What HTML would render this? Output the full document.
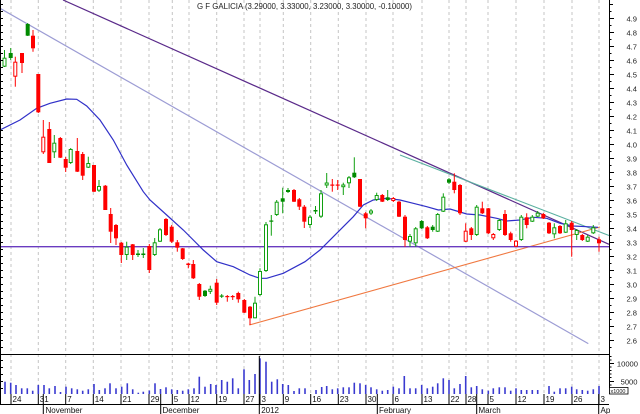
<!DOCTYPE html>
<html><head><meta charset="utf-8"><style>
html,body{margin:0;padding:0;background:#fff;}
svg{display:block;font-family:"Liberation Sans",Arial,sans-serif;}
.R{fill:#f00;}
.G{fill:#008a00;}
.r{fill:#fff;stroke:#f00;stroke-width:1;}
.g{fill:#fff;stroke:#10a010;stroke-width:1;}
.wr{stroke:#f00;stroke-width:1;}
.wg{stroke:#10a010;stroke-width:1;}
.grid{stroke:#c4c4c4;stroke-width:1;stroke-dasharray:3,3;}
.v{stroke:#3a3ad0;stroke-width:1.6;}
.ax{stroke:#000;stroke-width:1;}
.lbl{font-size:7.6px;fill:#222;}
.dl{font-size:8px;fill:#111;}
</style></head><body>
<svg width="640" height="414" viewBox="0 0 640 414" xmlns="http://www.w3.org/2000/svg">
<rect width="640" height="414" fill="#fff"/>
<!-- grid -->
<g class="grid">
<line x1="11" y1="0" x2="11" y2="394"/><line x1="38.3" y1="0" x2="38.3" y2="394"/><line x1="65.7" y1="0" x2="65.7" y2="394"/><line x1="93.3" y1="0" x2="93.3" y2="394"/><line x1="121" y1="0" x2="121" y2="394"/><line x1="149" y1="0" x2="149" y2="394"/><line x1="172.3" y1="0" x2="172.3" y2="394"/><line x1="189" y1="0" x2="189" y2="394"/><line x1="216.7" y1="0" x2="216.7" y2="394"/><line x1="244" y1="0" x2="244" y2="394"/><line x1="260" y1="0" x2="260" y2="394"/><line x1="283.3" y1="0" x2="283.3" y2="394"/><line x1="310.7" y1="0" x2="310.7" y2="394"/><line x1="338.3" y1="0" x2="338.3" y2="394"/><line x1="366" y1="0" x2="366" y2="394"/><line x1="393" y1="0" x2="393" y2="394"/><line x1="422" y1="0" x2="422" y2="394"/><line x1="449" y1="0" x2="449" y2="394"/><line x1="466" y1="0" x2="466" y2="394"/><line x1="488" y1="0" x2="488" y2="394"/><line x1="516" y1="0" x2="516" y2="394"/><line x1="544" y1="0" x2="544" y2="394"/><line x1="572" y1="0" x2="572" y2="394"/><line x1="599" y1="0" x2="599" y2="394"/>
</g>
<!-- title -->
<text x="197" y="9" font-size="8.5px" fill="#222" textLength="215" lengthAdjust="spacingAndGlyphs">G F GALICIA (3.29000, 3.33000, 3.23000, 3.30000, -0.10000)</text>
<!-- trendlines -->
<line x1="63" y1="0" x2="609" y2="244.3" stroke="#5a2a8a" stroke-width="1.2"/>
<line x1="0" y1="8.3" x2="588.3" y2="343.6" stroke="#9c9cd4" stroke-width="1.2"/>
<line x1="400" y1="155" x2="609" y2="235.5" stroke="#5ab0a0" stroke-width="1.1"/>
<line x1="249.3" y1="325" x2="600" y2="227" stroke="#f07840" stroke-width="1.1"/>
<line x1="0" y1="246.7" x2="609" y2="246.7" stroke="#6a3cc0" stroke-width="1.3"/>
<!-- moving average -->
<polyline fill="none" stroke="#3030c8" stroke-width="1.2" points="0,130 20,120 36.7,108.3 50,103.3 66.7,99 76.7,99.3 86.7,106 100,120 113.3,140 126.7,165 143.3,191.7 150,200 166.7,215 183.3,230 193.3,240 203.3,250 216.7,261.7 233.3,266.7 250,275 260,278.3 266.7,278.3 283.3,273.3 305,261.7 320,250 336.7,233.3 353.3,216.7 363.3,205 373.3,200 386.7,198.3 400,200 413.3,203.3 426.7,206.7 438.3,210 450,209 456.7,211 466.7,214 480,215 496.7,218.3 506.7,221 520,220 533.3,217.3 546.7,218.3 560,223.3 573.3,226 586.7,226.7 598,227.3"/>
<!-- candles -->
<g>
<line class="wg" x1="4.5" y1="50" x2="4.5" y2="67"/><rect class="g" x="3" y="58.2" width="3" height="8"/>
<line class="wg" x1="10.7" y1="48" x2="10.7" y2="60"/><rect class="G" x="8.7" y="53" width="4" height="5"/>
<line class="wr" x1="15.3" y1="56.7" x2="15.3" y2="86.7"/><rect class="r" x="13.8" y="62.2" width="3" height="14"/>
<line class="wr" x1="22" y1="53" x2="22" y2="73"/><rect class="R" x="20" y="53" width="4" height="10"/>
<line class="wg" x1="27.7" y1="23" x2="27.7" y2="36"/><rect class="G" x="25.7" y="24" width="4" height="11.7"/>
<line class="wr" x1="33" y1="30" x2="33" y2="51.7"/><rect class="R" x="31" y="35.7" width="4" height="12.6"/>
<line class="wr" x1="38.3" y1="74" x2="38.3" y2="113"/><rect class="R" x="36.3" y="74" width="4" height="38.3"/>
<line class="wr" x1="43.3" y1="120" x2="43.3" y2="154"/><rect class="r" x="41.8" y="137.2" width="3" height="14.6"/>
<line class="wr" x1="49.3" y1="122" x2="49.3" y2="163"/><rect class="R" x="47.3" y="129" width="4" height="34"/>
<line class="wg" x1="54.3" y1="135" x2="54.3" y2="158"/><rect class="g" x="52.8" y="143.2" width="3" height="8.6"/>
<line class="wr" x1="60.3" y1="137" x2="60.3" y2="158"/><rect class="R" x="58.3" y="138" width="4" height="19.7"/>
<line class="wr" x1="65.7" y1="157" x2="65.7" y2="172"/><rect class="R" x="63.7" y="159" width="4" height="8.7"/>
<line class="wg" x1="70.7" y1="148" x2="70.7" y2="164"/><rect class="g" x="69.2" y="149.5" width="3" height="13"/>
<line class="wr" x1="77.3" y1="138" x2="77.3" y2="172"/><rect class="R" x="75.3" y="151" width="4" height="20.7"/>
<line class="wr" x1="82.7" y1="152" x2="82.7" y2="180"/><rect class="R" x="80.7" y="154" width="4" height="21.7"/>
<line class="wg" x1="88.3" y1="156.7" x2="88.3" y2="168"/><rect class="g" x="86.8" y="163.5" width="3" height="3.7"/>
<line class="wr" x1="94" y1="165" x2="94" y2="192"/><rect class="R" x="92" y="165" width="4" height="26.7"/>
<line class="wg" x1="99" y1="180" x2="99" y2="192"/><rect class="g" x="97.5" y="186.5" width="3" height="3.7"/>
<line class="wr" x1="105.3" y1="185" x2="105.3" y2="210"/><rect class="R" x="103.3" y="185.7" width="4" height="24.3"/>
<line class="wr" x1="110.7" y1="208" x2="110.7" y2="243"/><rect class="R" x="108.7" y="214" width="4" height="17.7"/>
<line class="wr" x1="116" y1="224" x2="116" y2="245"/><rect class="R" x="114" y="225" width="4" height="13.3"/>
<line class="wr" x1="121.3" y1="242" x2="121.3" y2="263"/><rect class="R" x="119.3" y="242.7" width="4" height="12.3"/>
<line class="wg" x1="126.7" y1="241.7" x2="126.7" y2="260"/><rect class="g" x="125.2" y="247.2" width="3" height="7.3"/>
<line class="wr" x1="132.7" y1="244" x2="132.7" y2="260"/><rect class="R" x="130.7" y="244.3" width="4" height="10.7"/>
<line class="wg" x1="138" y1="250" x2="138" y2="257"/><rect class="G" x="136" y="253.5" width="4" height="1.5"/>
<line class="wg" x1="143.3" y1="248" x2="143.3" y2="258"/><rect class="G" x="141.3" y="253.5" width="4" height="1.5"/>
<line class="wr" x1="149.3" y1="244" x2="149.3" y2="273"/><rect class="R" x="147.3" y="246" width="4" height="24"/>
<line class="wg" x1="154.7" y1="238" x2="154.7" y2="256"/><rect class="g" x="153.2" y="242.8" width="3" height="11.7"/>
<line class="wg" x1="160" y1="228" x2="160" y2="242"/><rect class="g" x="158.5" y="229.8" width="3" height="11.4"/>
<line class="wr" x1="166" y1="218" x2="166" y2="236"/><rect class="R" x="164" y="219" width="4" height="16"/>
<line class="wr" x1="171.7" y1="225" x2="171.7" y2="243"/><rect class="R" x="169.7" y="226.7" width="4" height="15"/>
<line class="wr" x1="177.3" y1="240" x2="177.3" y2="251.7"/><rect class="R" x="175.3" y="242.3" width="4" height="5.4"/>
<line class="wr" x1="182.7" y1="248" x2="182.7" y2="260"/><rect class="R" x="180.7" y="248.3" width="4" height="10.7"/>
<line class="wr" x1="188.3" y1="262.7" x2="188.3" y2="268.3"/><rect class="R" x="186.3" y="263.5" width="4" height="1.5"/>
<line class="wr" x1="193.3" y1="260" x2="193.3" y2="279"/><rect class="R" x="191.3" y="264" width="4" height="14.3"/>
<line class="wr" x1="199.3" y1="283" x2="199.3" y2="300"/><rect class="R" x="197.3" y="284" width="4" height="12.7"/>
<line class="wg" x1="205" y1="290" x2="205" y2="297"/><rect class="G" x="203" y="290.7" width="4" height="5.3"/>
<line class="wg" x1="210.3" y1="285.7" x2="210.3" y2="294"/><rect class="g" x="208.8" y="289.3" width="3" height="2"/>
<line class="wr" x1="216.7" y1="279" x2="216.7" y2="305"/><rect class="R" x="214.7" y="282.7" width="4" height="20"/>
<line class="wg" x1="221.7" y1="294" x2="221.7" y2="298"/><rect class="G" x="219.7" y="295.5" width="4" height="1.2"/>
<line class="wr" x1="227.3" y1="295" x2="227.3" y2="301.7"/><rect class="R" x="225.3" y="296" width="4" height="1.2"/>
<line class="wr" x1="232.7" y1="295" x2="232.7" y2="300"/><rect class="R" x="230.7" y="296" width="4" height="1.2"/>
<line class="wr" x1="238.3" y1="291.7" x2="238.3" y2="302.7"/><rect class="R" x="236.3" y="293" width="4" height="6.3"/>
<line class="wr" x1="244.3" y1="299" x2="244.3" y2="313"/><rect class="R" x="242.3" y="300" width="4" height="12.7"/>
<line class="wr" x1="250" y1="306" x2="250" y2="325"/><rect class="R" x="248" y="306.7" width="4" height="11.6"/>
<line class="wg" x1="255" y1="296.7" x2="255" y2="318.3"/><rect class="g" x="253.5" y="303.2" width="3" height="14.6"/>
<line class="wg" x1="260" y1="268.3" x2="260" y2="296"/><rect class="g" x="258.5" y="271.5" width="3" height="23"/>
<line class="wg" x1="266" y1="222" x2="266" y2="272"/><rect class="g" x="264.5" y="224.8" width="3" height="45.7"/>
<line class="wg" x1="271.3" y1="215" x2="271.3" y2="235.7"/><rect class="G" x="269.3" y="220.5" width="4" height="1.2"/>
<line class="wg" x1="276.7" y1="200" x2="276.7" y2="216"/><rect class="g" x="275.2" y="202.2" width="3" height="12.3"/>
<line class="wg" x1="282.7" y1="187.7" x2="282.7" y2="213.3"/><rect class="G" x="280.7" y="198.3" width="4" height="3.4"/>
<line class="wg" x1="288" y1="188" x2="288" y2="193"/><rect class="G" x="286" y="190" width="4" height="2"/>
<line class="wr" x1="294" y1="189" x2="294" y2="202"/><rect class="R" x="292" y="190" width="4" height="11.7"/>
<line class="wr" x1="299.3" y1="198" x2="299.3" y2="210"/><rect class="R" x="297.3" y="199.3" width="4" height="7.4"/>
<line class="wr" x1="304.3" y1="205" x2="304.3" y2="228"/><rect class="R" x="302.3" y="206.7" width="4" height="15"/>
<line class="wg" x1="310" y1="215" x2="310" y2="228"/><rect class="g" x="308.5" y="217.2" width="3" height="7.3"/>
<line class="wg" x1="315.5" y1="206" x2="315.5" y2="214"/><rect class="G" x="313.5" y="210" width="4" height="1.5"/>
<line class="wg" x1="321" y1="190" x2="321" y2="218"/><rect class="g" x="319.5" y="193.8" width="3" height="22.4"/>
<line class="wg" x1="326.7" y1="173" x2="326.7" y2="188"/><rect class="g" x="325.2" y="183" width="3" height="2"/>
<line class="wr" x1="332.3" y1="179" x2="332.3" y2="191.7"/><rect class="R" x="330.3" y="184.5" width="4" height="1.2"/>
<line class="wr" x1="337.7" y1="180" x2="337.7" y2="190"/><rect class="R" x="335.7" y="184.5" width="4" height="1.2"/>
<line class="wg" x1="343.3" y1="182.7" x2="343.3" y2="195"/><rect class="g" x="341.8" y="185" width="3" height="1.7"/>
<line class="wg" x1="349" y1="176" x2="349" y2="188"/><rect class="g" x="347.5" y="177.8" width="3" height="5"/>
<line class="wg" x1="354.3" y1="157.3" x2="354.3" y2="178"/><rect class="G" x="352.3" y="172.7" width="4" height="4.6"/>
<line class="wr" x1="360" y1="179" x2="360" y2="207"/><rect class="R" x="358" y="179" width="4" height="27.7"/>
<line class="wr" x1="365.7" y1="212" x2="365.7" y2="228.3"/><rect class="R" x="363.7" y="213.3" width="4" height="5"/>
<line class="wg" x1="371" y1="209" x2="371" y2="215"/><rect class="g" x="369.5" y="211" width="3" height="2"/>
<line class="wg" x1="376.7" y1="192.7" x2="376.7" y2="201"/><rect class="g" x="375.2" y="195.5" width="3" height="4"/>
<line class="wr" x1="382.3" y1="194" x2="382.3" y2="202"/><rect class="R" x="380.3" y="195" width="4" height="6.7"/>
<line class="wg" x1="387.7" y1="190" x2="387.7" y2="201"/><rect class="G" x="385.7" y="197.3" width="4" height="2.7"/>
<line class="wr" x1="393.3" y1="197" x2="393.3" y2="202"/><rect class="r" x="391.8" y="198.5" width="3" height="2"/>
<line class="wr" x1="399" y1="201" x2="399" y2="217"/><rect class="R" x="397" y="201.7" width="4" height="15"/>
<line class="wr" x1="405" y1="215" x2="405" y2="246.7"/><rect class="R" x="403" y="216.7" width="4" height="23.3"/>
<line class="wg" x1="410" y1="234" x2="410" y2="246.7"/><rect class="g" x="408.5" y="236.5" width="3" height="4.7"/>
<line class="wg" x1="415.7" y1="227" x2="415.7" y2="246.7"/><rect class="g" x="414.2" y="228.8" width="3" height="14"/>
<line class="wg" x1="421.7" y1="220" x2="421.7" y2="229"/><rect class="G" x="419.7" y="221" width="4" height="7.3"/>
<line class="wr" x1="427.3" y1="226" x2="427.3" y2="239"/><rect class="R" x="425.3" y="227.3" width="4" height="11"/>
<line class="wg" x1="432.7" y1="225" x2="432.7" y2="231.7"/><rect class="G" x="430.7" y="226.7" width="4" height="3.3"/>
<line class="wg" x1="437.7" y1="213" x2="437.7" y2="232"/><rect class="g" x="436.2" y="214.5" width="3" height="16.7"/>
<line class="wg" x1="443.3" y1="193.3" x2="443.3" y2="212"/><rect class="g" x="441.8" y="197.2" width="3" height="14"/>
<line class="wg" x1="449" y1="178" x2="449" y2="184"/><rect class="G" x="447" y="179.3" width="4" height="3.4"/>
<line class="wr" x1="454.3" y1="173.3" x2="454.3" y2="193.3"/><rect class="R" x="452.3" y="181.7" width="4" height="8.3"/>
<line class="wr" x1="460" y1="184" x2="460" y2="215"/><rect class="R" x="458" y="185" width="4" height="28.3"/>
<line class="wr" x1="465.7" y1="223.3" x2="465.7" y2="242"/><rect class="r" x="464.2" y="231.2" width="3" height="10"/>
<line class="wr" x1="471.3" y1="227" x2="471.3" y2="240"/><rect class="R" x="469.3" y="228.3" width="4" height="6.7"/>
<line class="wg" x1="476.7" y1="205" x2="476.7" y2="236"/><rect class="g" x="475.2" y="207.2" width="3" height="27.3"/>
<line class="wr" x1="482.3" y1="201.7" x2="482.3" y2="214"/><rect class="R" x="480.3" y="208.3" width="4" height="5"/>
<line class="wr" x1="488.3" y1="208" x2="488.3" y2="234"/><rect class="R" x="486.3" y="208.3" width="4" height="25"/>
<line class="wr" x1="493.3" y1="233" x2="493.3" y2="240"/><rect class="r" x="491.8" y="234.5" width="3" height="3.3"/>
<line class="wg" x1="499.3" y1="219" x2="499.3" y2="231"/><rect class="g" x="497.8" y="220.5" width="3" height="9"/>
<line class="wr" x1="505" y1="210" x2="505" y2="236"/><rect class="R" x="503" y="214" width="4" height="21"/>
<line class="wr" x1="510.7" y1="231.7" x2="510.7" y2="241.7"/><rect class="R" x="508.7" y="233.3" width="4" height="6.7"/>
<line class="wr" x1="516" y1="240" x2="516" y2="247"/><rect class="r" x="514.5" y="241.2" width="3" height="5"/>
<line class="wg" x1="521.3" y1="215" x2="521.3" y2="241"/><rect class="g" x="519.8" y="217.2" width="3" height="22.3"/>
<line class="wr" x1="526.7" y1="213.3" x2="526.7" y2="228.3"/><rect class="R" x="524.7" y="217.3" width="4" height="7.7"/>
<line class="wg" x1="532.3" y1="215" x2="532.3" y2="222"/><rect class="g" x="530.8" y="217.2" width="3" height="4"/>
<line class="wg" x1="537.7" y1="211" x2="537.7" y2="217"/><rect class="g" x="536.2" y="213.2" width="3" height="3"/>
<line class="wr" x1="543.3" y1="213" x2="543.3" y2="219"/><rect class="R" x="541.3" y="214" width="4" height="4.3"/>
<line class="wr" x1="549" y1="222" x2="549" y2="234"/><rect class="R" x="547" y="222.7" width="4" height="10.6"/>
<line class="wg" x1="554.3" y1="223.3" x2="554.3" y2="238.3"/><rect class="g" x="552.8" y="227.8" width="3" height="6"/>
<line class="wr" x1="560" y1="225" x2="560" y2="234"/><rect class="R" x="558" y="226" width="4" height="7.3"/>
<line class="wg" x1="565.7" y1="220" x2="565.7" y2="233"/><rect class="g" x="564.2" y="223.8" width="3" height="8.4"/>
<line class="wr" x1="571.7" y1="221" x2="571.7" y2="256.7"/><rect class="R" x="569.7" y="222.7" width="4" height="7.3"/>
<line class="wg" x1="576.7" y1="229" x2="576.7" y2="240"/><rect class="g" x="575.2" y="230.5" width="3" height="4"/>
<line class="wr" x1="582.3" y1="234" x2="582.3" y2="241"/><rect class="R" x="580.3" y="235" width="4" height="5"/>
<line class="wg" x1="587.7" y1="235" x2="587.7" y2="242"/><rect class="g" x="586.2" y="237.2" width="3" height="4"/>
<line class="wg" x1="593.3" y1="225" x2="593.3" y2="234"/><rect class="g" x="591.8" y="227.8" width="3" height="5"/>
<line class="wr" x1="599" y1="236.7" x2="599" y2="251.7"/><rect class="R" x="597" y="239.3" width="4" height="4"/>
</g>
<!-- volume bars -->
<g class="v">
<line x1="5" y1="381.7" x2="5" y2="394"/><line x1="10.7" y1="382.7" x2="10.7" y2="394"/><line x1="16" y1="385" x2="16" y2="394"/><line x1="21.7" y1="388.3" x2="21.7" y2="394"/><line x1="27.3" y1="388.3" x2="27.3" y2="394"/><line x1="32.7" y1="390.7" x2="32.7" y2="394"/><line x1="38.3" y1="385" x2="38.3" y2="394"/><line x1="44" y1="385" x2="44" y2="394"/><line x1="49.3" y1="388.3" x2="49.3" y2="394"/><line x1="55" y1="386" x2="55" y2="394"/><line x1="60.5" y1="392" x2="60.5" y2="394"/><line x1="66" y1="386.7" x2="66" y2="394"/><line x1="71.7" y1="388.3" x2="71.7" y2="394"/><line x1="77.3" y1="389.3" x2="77.3" y2="394"/><line x1="82.7" y1="390.7" x2="82.7" y2="394"/><line x1="88.3" y1="389.3" x2="88.3" y2="394"/><line x1="94" y1="384" x2="94" y2="394"/><line x1="99.3" y1="390" x2="99.3" y2="394"/><line x1="105" y1="388.3" x2="105" y2="394"/><line x1="110" y1="383.3" x2="110" y2="394"/><line x1="116" y1="388.3" x2="116" y2="394"/><line x1="121.7" y1="386.7" x2="121.7" y2="394"/><line x1="127.3" y1="383.3" x2="127.3" y2="394"/><line x1="132.7" y1="389.3" x2="132.7" y2="394"/><line x1="138.3" y1="392.7" x2="138.3" y2="394"/><line x1="143.3" y1="391.7" x2="143.3" y2="394"/><line x1="149.3" y1="390.5" x2="149.3" y2="394"/><line x1="155" y1="383.3" x2="155" y2="394"/><line x1="160.5" y1="389" x2="160.5" y2="394"/><line x1="166" y1="387.3" x2="166" y2="394"/><line x1="171.7" y1="389.3" x2="171.7" y2="394"/><line x1="177.3" y1="390" x2="177.3" y2="394"/><line x1="182.7" y1="390.7" x2="182.7" y2="394"/><line x1="188.3" y1="389.3" x2="188.3" y2="394"/><line x1="194" y1="388.3" x2="194" y2="394"/><line x1="199.3" y1="376.7" x2="199.3" y2="394"/><line x1="205" y1="386.7" x2="205" y2="394"/><line x1="210.7" y1="384" x2="210.7" y2="394"/><line x1="216" y1="385" x2="216" y2="394"/><line x1="221.7" y1="380" x2="221.7" y2="394"/><line x1="227.3" y1="381.7" x2="227.3" y2="394"/><line x1="232.7" y1="378.3" x2="232.7" y2="394"/><line x1="238.3" y1="388.3" x2="238.3" y2="394"/><line x1="244" y1="369.3" x2="244" y2="394"/><line x1="249.3" y1="380" x2="249.3" y2="394"/><line x1="255" y1="374" x2="255" y2="394"/><line x1="260" y1="358.3" x2="260" y2="394"/><line x1="266" y1="361.7" x2="266" y2="394"/><line x1="271.7" y1="381.7" x2="271.7" y2="394"/><line x1="277.3" y1="379.3" x2="277.3" y2="394"/><line x1="282.7" y1="384" x2="282.7" y2="394"/><line x1="288.3" y1="385" x2="288.3" y2="394"/><line x1="294" y1="391" x2="294" y2="394"/><line x1="299.3" y1="388.3" x2="299.3" y2="394"/><line x1="305" y1="388.3" x2="305" y2="394"/><line x1="316" y1="390" x2="316" y2="394"/><line x1="321.7" y1="387" x2="321.7" y2="394"/><line x1="326.7" y1="386" x2="326.7" y2="394"/><line x1="332.3" y1="389.3" x2="332.3" y2="394"/><line x1="337.7" y1="388.3" x2="337.7" y2="394"/><line x1="343.3" y1="387.3" x2="343.3" y2="394"/><line x1="349" y1="387.3" x2="349" y2="394"/><line x1="354.3" y1="382.7" x2="354.3" y2="394"/><line x1="360" y1="383.3" x2="360" y2="394"/><line x1="365.7" y1="385" x2="365.7" y2="394"/><line x1="371" y1="387.3" x2="371" y2="394"/><line x1="376.7" y1="389.3" x2="376.7" y2="394"/><line x1="382.3" y1="390.7" x2="382.3" y2="394"/><line x1="387.7" y1="390" x2="387.7" y2="394"/><line x1="393.3" y1="386.7" x2="393.3" y2="394"/><line x1="399" y1="388.3" x2="399" y2="394"/><line x1="404.3" y1="376" x2="404.3" y2="394"/><line x1="410" y1="388.3" x2="410" y2="394"/><line x1="415.7" y1="388.3" x2="415.7" y2="394"/><line x1="421.7" y1="385" x2="421.7" y2="394"/><line x1="427.3" y1="388.3" x2="427.3" y2="394"/><line x1="432.7" y1="386.7" x2="432.7" y2="394"/><line x1="437.7" y1="383.3" x2="437.7" y2="394"/><line x1="443.3" y1="378.3" x2="443.3" y2="394"/><line x1="449" y1="380" x2="449" y2="394"/><line x1="454.3" y1="388.3" x2="454.3" y2="394"/><line x1="460" y1="384" x2="460" y2="394"/><line x1="465.7" y1="376" x2="465.7" y2="394"/><line x1="471.3" y1="387.3" x2="471.3" y2="394"/><line x1="476.7" y1="386" x2="476.7" y2="394"/><line x1="482.3" y1="389.3" x2="482.3" y2="394"/><line x1="488.3" y1="390.7" x2="488.3" y2="394"/><line x1="493.3" y1="388.3" x2="493.3" y2="394"/><line x1="499.3" y1="387.3" x2="499.3" y2="394"/><line x1="505" y1="387.3" x2="505" y2="394"/><line x1="510.7" y1="390.7" x2="510.7" y2="394"/><line x1="516" y1="388.3" x2="516" y2="394"/><line x1="521.3" y1="390" x2="521.3" y2="394"/><line x1="526.7" y1="390" x2="526.7" y2="394"/><line x1="532.3" y1="390" x2="532.3" y2="394"/><line x1="537.7" y1="390" x2="537.7" y2="394"/><line x1="549" y1="386" x2="549" y2="394"/><line x1="554.3" y1="391.7" x2="554.3" y2="394"/><line x1="560" y1="388.3" x2="560" y2="394"/><line x1="565.7" y1="388.3" x2="565.7" y2="394"/><line x1="571.7" y1="386.7" x2="571.7" y2="394"/><line x1="576.7" y1="389.3" x2="576.7" y2="394"/><line x1="582.3" y1="390" x2="582.3" y2="394"/><line x1="587.7" y1="390.7" x2="587.7" y2="394"/><line x1="593.3" y1="389.3" x2="593.3" y2="394"/><line x1="599" y1="386" x2="599" y2="394"/>
</g>
<!-- frame / axes -->
<line class="ax" x1="0" y1="354.5" x2="609" y2="354.5"/>
<line class="ax" x1="0" y1="404.5" x2="609" y2="404.5"/>
<line class="ax" x1="609.5" y1="0" x2="609.5" y2="394"/>
<line class="ax" x1="0.5" y1="0" x2="0.5" y2="404"/>
<!-- left axis minor ticks -->
<path d="M0 4.5h3M0 11.5h3M0 18.5h3M0 25.5h3M0 32.5h3M0 39.5h3M0 46.5h3M0 53.5h3M0 60.5h3M0 67.5h3M0 74.5h3M0 81.5h3M0 88.5h3M0 95.5h3M0 102.5h3M0 109.5h3M0 116.5h3M0 123.5h3M0 130.5h3M0 137.5h3M0 144.5h3M0 151.5h3M0 158.5h3M0 165.5h3M0 172.5h3M0 179.5h3M0 186.5h3M0 193.5h3M0 200.5h3M0 207.5h3M0 214.5h3M0 221.5h3M0 228.5h3M0 235.5h3M0 242.5h3M0 249.5h3M0 256.5h3M0 263.5h3M0 270.5h3M0 277.5h3M0 284.5h3M0 291.5h3M0 298.5h3M0 305.5h3M0 312.5h3M0 319.5h3M0 326.5h3M0 333.5h3M0 340.5h3M0 347.5h3M0 360.5h3M0 367.5h3M0 374.5h3M0 381.5h3M0 388.5h3" stroke="#000" stroke-width="1"/>
<!-- right price ticks -->
<path d="M609 4.5h4M609 18.5h5M609 32.5h5M609 46.5h5M609 60.5h5M609 74.5h5M609 88.5h5M609 102.5h5M609 116.5h5M609 130.5h5M609 144.5h5M609 158.5h5M609 172.5h5M609 186.5h5M609 200.5h5M609 214.5h5M609 228.5h5M609 242.5h5M609 256.5h5M609 270.5h5M609 284.5h5M609 298.5h5M609 312.5h5M609 326.5h5M609 340.5h5M609 11.5h2.5M609 25.5h2.5M609 39.5h2.5M609 53.5h2.5M609 67.5h2.5M609 81.5h2.5M609 95.5h2.5M609 109.5h2.5M609 123.5h2.5M609 137.5h2.5M609 151.5h2.5M609 165.5h2.5M609 179.5h2.5M609 193.5h2.5M609 207.5h2.5M609 221.5h2.5M609 235.5h2.5M609 249.5h2.5M609 263.5h2.5M609 277.5h2.5M609 291.5h2.5M609 305.5h2.5M609 319.5h2.5M609 333.5h2.5M609 347.5h2.5" stroke="#000" stroke-width="1"/>
<!-- volume ticks -->
<path d="M609 363.5h5M609 381.5h5M609 356.5h2.5M609 360h2.5M609 367h2.5M609 370.5h2.5M609 374h2.5M609 377.5h2.5M609 385h2.5M609 388.5h2.5M609 392h2.5" stroke="#000" stroke-width="1"/>
<g class="lbl" text-anchor="end">
<text x="637" y="21.3">4.9</text><text x="637" y="35.3">4.8</text><text x="637" y="49.3">4.7</text><text x="637" y="63.3">4.6</text><text x="637" y="77.3">4.5</text><text x="637" y="91.3">4.4</text><text x="637" y="105.3">4.3</text><text x="637" y="119.3">4.2</text><text x="637" y="133.3">4.1</text><text x="637" y="147.3">4.0</text><text x="637" y="161.3">3.9</text><text x="637" y="175.3">3.8</text><text x="637" y="189.3">3.7</text><text x="637" y="203.3">3.6</text><text x="637" y="217.3">3.5</text><text x="637" y="231.3">3.4</text><text x="637" y="245.3">3.3</text><text x="637" y="259.3">3.2</text><text x="637" y="273.3">3.1</text><text x="637" y="287.3">3.0</text><text x="637" y="301.3">2.9</text><text x="637" y="315.3">2.8</text><text x="637" y="329.3">2.7</text><text x="637" y="343.3">2.6</text>
<text x="638" y="366.3">10000</text><text x="637.5" y="384.3">5000</text>
</g>
<rect x="609.5" y="387.5" width="18.5" height="6.5" fill="#fff" stroke="#000" stroke-width="0.8"/>
<text x="610.5" y="393" font-size="5.5px" fill="#111">x1000</text>
<!-- date ticks -->
<path d="M11 394v10M38.3 394v10M65.7 394v10M93.3 394v10M121 394v10M149 394v10M172.3 394v10M189 394v10M216.7 394v10M244 394v10M260 394v10M283.3 394v10M310.7 394v10M338.3 394v10M366 394v10M393 394v10M422 394v10M449 394v10M466 394v10M488 394v10M516 394v10M544 394v10M572 394v10M599 394v10" stroke="#000" stroke-width="1"/>
<!-- month separators -->
<path d="M43.3 394v20M160.7 394v20M259.3 356v58M377.3 394v20M476.7 394v20M598.7 394v20" stroke="#000" stroke-width="1"/>
<g class="dl">
<text x="12.5" y="402">24</text><text x="39.8" y="402">31</text><text x="67.2" y="402">7</text><text x="94.8" y="402">14</text><text x="122.5" y="402">21</text><text x="150.5" y="402">29</text><text x="173.8" y="402">5</text><text x="190.5" y="402">12</text><text x="218.2" y="402">19</text><text x="245.5" y="402">27</text><text x="261.5" y="402">3</text><text x="284.8" y="402">9</text><text x="312.2" y="402">16</text><text x="339.8" y="402">23</text><text x="367.5" y="402">30</text><text x="394.5" y="402">6</text><text x="423.5" y="402">13</text><text x="450.5" y="402">22</text><text x="467.5" y="402">28</text><text x="489.5" y="402">5</text><text x="517.5" y="402">12</text><text x="545.5" y="402">19</text><text x="573.5" y="402">26</text><text x="600.5" y="402">3</text>
<text x="45.5" y="413">November</text><text x="162.5" y="413">December</text><text x="261.2" y="413">2012</text><text x="379" y="413">February</text><text x="478.5" y="413">March</text><text x="600.5" y="413">Ap</text>
</g>
</svg>
</body></html>
